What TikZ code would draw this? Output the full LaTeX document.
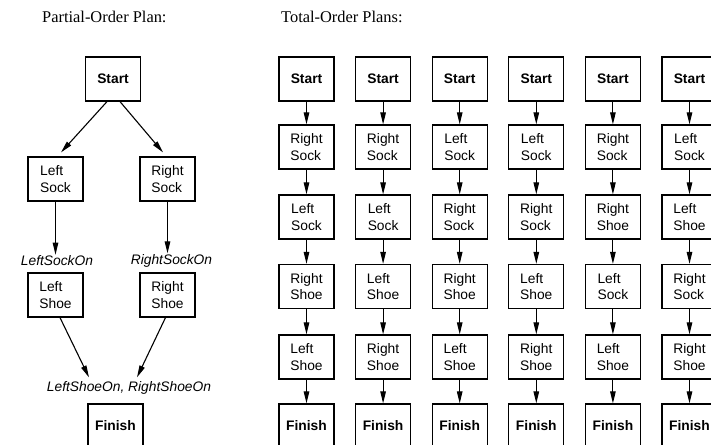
\documentclass[tikz,border=0pt]{standalone}
\usepackage{fontspec}
\setmainfont{Liberation Serif}
\setsansfont{Liberation Sans}
\usetikzlibrary{arrows.meta,calc}
\newcommand\RSk{Right\\Sock}
\newcommand\LSk{Left\\Sock}
\newcommand\RSh{Right\\Shoe}
\newcommand\LSh{Left\\Shoe}
\begin{document}
\begin{tikzpicture}[x=1pt,y=-1pt,
  box/.style={draw,line width=1.2pt,minimum width=55pt,minimum height=44pt,inner sep=0pt,align=left,
    font=\sffamily\fontsize{13.8}{16.6}\selectfont},
  bbox/.style={box,font=\sffamily\bfseries\fontsize{13.8}{16.6}\selectfont},
  lab/.style={font=\sffamily\itshape\fontsize{13.8}{16.6}\selectfont,inner sep=1pt},
  arr/.style={line width=1.1pt,-{Triangle[length=12pt,width=5.5pt]}},
  ttl/.style={font=\fontsize{16.4}{19}\selectfont,inner sep=0pt}]
\useasboundingbox (0,0) rectangle (711,444);
% titles
\node[ttl,anchor=base west] (t1) at (42,23) {Partial-Order Plan:};
\node[ttl,anchor=base west] (t2) at (281,23) {Total-Order Plans:};
% partial-order plan
\node[bbox] (ps) at (113,79) {Start};
\node[box] (ls) at (55.5,179) {\LSk};
\node[box] (rs) at (167.5,179) {\RSk};
\node[lab] (lsl) at (57,261) {LeftSockOn};
\node[lab] (rsl) at (171.5,261) {RightSockOn};
\node[box] (lh) at (55.5,295) {\LSh};
\node[box] (rh) at (167.5,295) {\RSh};
\node[lab] (fl) at (129,388) {LeftShoeOn, RightShoeOn};
\node[bbox] (pf) at (115.5,426) {Finish};
\draw[arr] ($(ps.south)+(-6,0)$) -- ($(ls.north)+(5.5,-4)$);
\draw[arr] ($(ps.south)+(7,0)$) -- ($(rs.north)+(-4.5,-4)$);
\draw[arr] (ls.south) -- (ls.south |- lsl.north);
\draw[arr] (rs.south) -- (rs.south |- rsl.north);
\draw[arr] ($(lh.south)+(4.5,0)$) -- ($(fl.north)+(-40,-3)$);
\draw[arr] ($(rh.south)+(-2,0)$) -- ($(fl.north)+(8,-3)$);
% total-order plans
\foreach \c/\x/\a/\b/\d/\e in {
  1/306.5/\RSk/\LSk/\RSh/\LSh,
  2/383.1/\RSk/\LSk/\LSh/\RSh,
  3/459.7/\LSk/\RSk/\RSh/\LSh,
  4/536.3/\LSk/\RSk/\LSh/\RSh,
  5/612.9/\RSk/\RSh/\LSk/\LSh,
  6/689.5/\LSk/\LSh/\RSk/\RSh}{
  \node[bbox] (c\c-1) at (\x,79) {Start};
  \node[box]  (c\c-2) at (\x,147) {\a};
  \node[box]  (c\c-3) at (\x,217) {\b};
  \node[box]  (c\c-4) at (\x,286.5) {\d};
  \node[box]  (c\c-5) at (\x,357) {\e};
  \node[bbox] (c\c-6) at (\x,426) {Finish};
  \foreach \r [evaluate=\r as \n using int(\r+1)] in {1,...,5}{
    \draw[arr] (c\c-\r) -- (c\c-\n);
  }
}
\end{tikzpicture}
\end{document}
